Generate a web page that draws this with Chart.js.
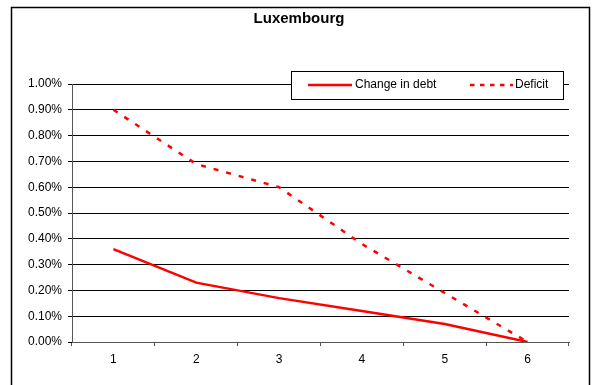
<!DOCTYPE html>
<html>
<head>
<meta charset="utf-8">
<script src="https://cdn.jsdelivr.net/npm/chart.js@4/dist/chart.umd.min.js"></script>
<style>
html,body{margin:0;padding:0;background:#fff;}
#wrap{width:596px;height:385px;position:relative;}
</style>
</head>
<body>
<div id="wrap"><canvas id="c" width="596" height="385"></canvas></div>
<script>
const categories = ['1','2','3','4','5','6'];
const changeInDebt = [0.0036, 0.0023, 0.0017, 0.0012, 0.0007, 0.0000];
const deficit = [0.0090, 0.0069, 0.0060, 0.0038, 0.0019, 0.0000];
const seriesNames = ['Change in debt', 'Deficit'];
const chartTitle = 'Luxembourg';

const FONT = '"Liberation Sans", Arial, sans-serif';

const framePlugin = {
  id: 'frame',
  beforeDraw(chart) {
    const ctx = chart.ctx;
    ctx.save();
    ctx.fillStyle = '#fff';
    ctx.fillRect(0, 0, chart.width, chart.height);
    ctx.strokeStyle = '#000';
    ctx.lineWidth = 1.5;
    ctx.strokeRect(11.5, 7.5, 578, 400);
    ctx.fillStyle = '#000';
    ctx.font = 'bold 15px ' + FONT;
    ctx.textAlign = 'center';
    ctx.textBaseline = 'middle';
    ctx.fillText(chartTitle, 299, 19);
    ctx.restore();
  },
  afterDatasetsDraw(chart) {
    const ctx = chart.ctx;
    ctx.save();
    ctx.fillStyle = '#fff';
    ctx.fillRect(291, 71, 272, 28);
    ctx.strokeStyle = '#000';
    ctx.lineWidth = 1;
    ctx.strokeRect(291.5, 71.5, 272, 28);
    const y = 85;
    ctx.strokeStyle = '#ff0000';
    ctx.lineWidth = 2.5;
    ctx.beginPath(); ctx.moveTo(308, y); ctx.lineTo(352, y); ctx.stroke();
    ctx.setLineDash([4.5, 5.5]);
    ctx.beginPath(); ctx.moveTo(470, y); ctx.lineTo(513, y); ctx.stroke();
    ctx.setLineDash([]);
    ctx.fillStyle = '#000';
    ctx.font = '12px ' + FONT;
    ctx.textAlign = 'left';
    ctx.textBaseline = 'middle';
    ctx.fillText(seriesNames[0], 355, y);
    ctx.fillText(seriesNames[1], 515, y);
    ctx.restore();
  }
};

new Chart(document.getElementById('c'), {
  type: 'line',
  data: {
    labels: categories,
    datasets: [
      { label: seriesNames[0], data: changeInDebt, borderColor: '#ff0000', borderWidth: 2.5, pointRadius: 0, tension: 0, fill: false },
      { label: seriesNames[1], data: deficit, borderColor: '#ff0000', borderWidth: 2.5, borderDash: [5, 8], pointRadius: 0, tension: 0, fill: false }
    ]
  },
  options: {
    responsive: false,
    animation: false,
    layout: { padding: { left: 0, top: 84, right: 27, bottom: 0 } },
    plugins: { legend: { display: false }, title: { display: false }, tooltip: { enabled: false } },
    scales: {
      x: {
        offset: true,
        grid: { offset: true, drawOnChartArea: false, drawTicks: true, tickLength: 4, color: '#555' },
        border: { display: true, color: '#555', width: 1 },
        ticks: { color: '#000', font: { family: FONT, size: 12 }, padding: 6, maxRotation: 0 },
        afterFit(scale) { scale.height = 43; }
      },
      y: {
        min: 0, max: 0.01,
        grid: { color: '#000', lineWidth: 1, drawTicks: true, tickLength: 4 },
        border: { display: true, color: '#555', width: 1 },
        ticks: {
          stepSize: 0.001, color: '#000', font: { family: FONT, size: 12 }, padding: 6,
          callback: v => (v * 100).toFixed(2) + '%'
        },
        afterFit(scale) { scale.width = 72; }
      }
    }
  },
  plugins: [framePlugin]
});
</script>
</body>
</html>
